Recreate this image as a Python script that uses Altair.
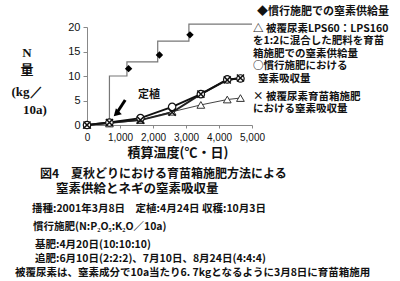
import altair as alt
import pandas as pd

# ---- data ----
step_temp = [0, 680, 1210, 2143, 3088, 5000]
step_n = [0, 10, 12.9, 17.1, 20.6, 20.6]
diamond_temp = [1260, 2195, 3120]
diamond_n = [11.5, 14.3, 18.4]
sample_temp = [0, 680, 1620, 2580, 3450, 4250, 4650]
circle_n = [0, 0.5, 1.4, 3.7, 6.3, 9.3, 9.5]
cross_n = [0, 0.5, 1.0, 2.6, 6.3, 9.2, 9.6]
triangle_n = [0, 0.3, 1.0, 2.7, 4.1, 5.2, 5.5]
x_ticks = [0, 1000, 2000, 3000, 4000, 5000]
y_ticks = [0, 5, 10, 15, 20]
arrow_temp = [1158, 888]
arrow_n = [5.1, 2.3]

JP = "Noto Sans CJK JP"
NUM = "Liberation Sans"

xs = alt.Scale(domain=[0, 5000], nice=False)
ys = alt.Scale(domain=[0, 20], nice=False)


def X(field):
    return alt.X(field, type="quantitative", scale=xs,
                 axis=alt.Axis(values=x_ticks, title=None, grid=False, labelFont=NUM,
                               labelFontSize=10, labelColor="#111", domainColor="#888",
                               tickColor="#888", tickSize=3, labelPadding=4,
                               labelFlush=False))


def Y(field):
    return alt.Y(field, type="quantitative", scale=ys,
                 axis=alt.Axis(values=y_ticks, title=None, grid=False, labelFont=NUM,
                               labelFontSize=11, labelColor="#111", domainColor="#888",
                               tickColor="#888", tickSize=4, labelPadding=3))


step_df = pd.DataFrame({"t": step_temp, "n": step_n})
dia_df = pd.DataFrame({"t": diamond_temp, "n": diamond_n})
samp_df = pd.DataFrame({"t": sample_temp, "c": circle_n, "x": cross_n, "tr": triangle_n})
arrow_df = pd.DataFrame({"t": arrow_temp, "n": arrow_n})

step = alt.Chart(step_df).mark_line(interpolate="step-after", color="#777", strokeWidth=1.2).encode(
    x=X("t"), y=Y("n"))
dia = alt.Chart(dia_df).mark_point(shape="diamond", filled=True, color="black", size=55, opacity=1).encode(
    x=X("t"), y=Y("n"))

tri_line = alt.Chart(samp_df).mark_line(color="#444", strokeWidth=1).encode(x=X("t"), y=Y("tr"))
cross_line = alt.Chart(samp_df).mark_line(color="#222", strokeWidth=2).encode(x=X("t"), y=Y("x"))
circ_line = alt.Chart(samp_df).mark_line(color="#111", strokeWidth=2).encode(x=X("t"), y=Y("c"))

tri_pts = alt.Chart(samp_df).mark_point(shape="triangle-up", filled=True, fill="white", stroke="#333",
                                        strokeWidth=1, size=60, opacity=1).encode(x=X("t"), y=Y("tr"))
circ_pts = alt.Chart(samp_df).mark_point(shape="circle", filled=True, fill="white", stroke="#111",
                                         strokeWidth=1.2, size=55, opacity=1).encode(x=X("t"), y=Y("c"))
cross_pts = alt.Chart(samp_df).mark_point(shape="M-1,-1L1,1M-1,1L1,-1", filled=False, stroke="#111",
                                          strokeWidth=1.5, size=50, opacity=1).encode(x=X("t"), y=Y("x"))

arrow_line = alt.Chart(arrow_df).mark_line(color="black", strokeWidth=3).encode(x=X("t"), y=Y("n"))
arrow_head = alt.Chart(arrow_df.iloc[[1]]).mark_point(shape="triangle-up", filled=True, color="black",
                                                      size=70, angle=225, opacity=1).encode(x=X("t"), y=Y("n"))


def label(text, x, y, size=10.5, weight="bold", align="left", font=JP):
    return alt.Chart(pd.DataFrame({"s": [text]})).mark_text(
        align=align, baseline="middle", font=font, fontSize=size, fontWeight=weight, color="#111"
    ).encode(text="s:N", x=alt.value(x), y=alt.value(y))


texts = [
    label("定植", 51, 67.5, 11),
    # y-axis title
    label("N", -60, 25.7, 13, align="center", font="Liberation Serif"),
    label("量", -60, 43, 13, align="center"),
    label("(kg／", -60, 65, 13, align="center", font="Liberation Serif"),
    label("10a)", -52, 83, 13, align="center", font="Liberation Serif"),
    # legend text
    label("◆慣行施肥での窒素供給量", 170, -15, 11),
    label("△ 被覆尿素LPS60：LPS160", 166, 1.5, 10.5),
    label("を1:2に混合した肥料を育苗", 166, 14, 10.5),
    label("箱施肥での窒素供給量", 166, 26.5, 10.5),
    label("○慣行施肥における", 166, 39, 10.5),
    label("窒素吸収量", 171, 51.5, 10.5),
    label("× 被覆尿素育苗箱施肥", 166, 69.5, 10.5),
    label("における窒素吸収量", 166, 82, 10.5),
    # x title & caption
    label("積算温度(℃・日)", 91, 125.5, 13, align="center"),
    label("図4　夏秋どりにおける育苗箱施肥方法による", -47, 146.5, 12),
    label("窒素供給とネギの窒素吸収量", -31, 161.5, 12.5),
    # notes
    label("播種:2001年3月8日　定植:4月24日 収穫:10月3日", -55, 181.5),
    label("慣行施肥(N:P₂O₅:K₂O／10a)", -54, 200),
    label("基肥:4月20日(10:10:10)", -52, 218),
    label("追肥:6月10日(2:2:2)、7月10日、8月24日(4:4:4)", -52, 232.3),
    label("被覆尿素は、窒素成分で10a当たり6. 7kgとなるように3月8日に育苗箱施用", -72, 245.6),
]

chart = alt.layer(
    step, dia, tri_line, cross_line, circ_line, tri_pts, circ_pts, cross_pts,
    arrow_line, arrow_head, *texts
).properties(
    width=165, height=98,
    autosize=alt.AutoSizeParams(type="none"),
    padding={"left": 87, "top": 27, "right": 148, "bottom": 156},
    background="white",
).configure_view(strokeWidth=0)

chart.save("out.html", embed_options={"renderer": "svg", "actions": False})
